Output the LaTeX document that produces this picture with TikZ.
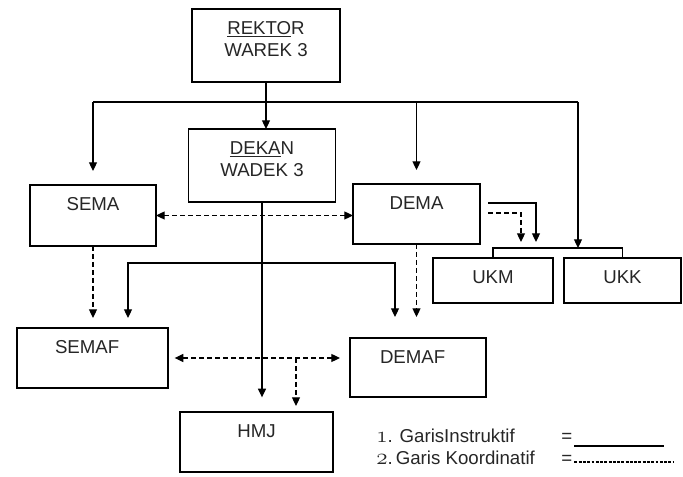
\documentclass[tikz,border=0pt]{standalone}
\usepackage{fontspec}
\setmainfont{Liberation Sans}
\usetikzlibrary{arrows.meta}

\tikzset{
  box/.style 2 args={draw, line width=0.9pt, minimum width=#1*0.75pt, minimum height=#2*0.75pt, inner sep=0pt, outer sep=0pt},
  txt/.style={anchor=north, inner sep=0pt, yshift=-9pt, align=center, text=black!85, font=\fontsize{14}{17}\selectfont},
  lgd/.style={inner sep=0pt, text=black!85, font=\fontsize{14}{17}\selectfont},
  line/.style={line width=0.9pt},
  dash line/.style={line width=0.9pt, dash pattern=on 3.5pt off 2.5pt},
}
\newcommand{\legnum}[1]{{\fontsize{18}{18}\selectfont$\mathnormal{#1}$}}

\begin{document}
\begin{tikzpicture}[x=0.75pt, y=-0.75pt, >={Triangle[length=6.5pt,width=6pt]}]
\useasboundingbox (0,0) rectangle (683,477);

% boxes
\node[box={148}{73}, label={[txt]north:\underline{REKTO}R\\WAREK 3}] (rektor) at (266,45.5) {};
\node[box={147}{73}, label={[txt]north:\underline{DEKA}N\\WADEK 3}] (dekan) at (262,165.5) {};
\node[box={126}{61}, label={[txt]north:SEMA}] (sema) at (93,215.5) {};
\node[box={127}{60}, label={[txt]north:DEMA}] (dema) at (416.5,214) {};
\node[box={120}{45}, label={[txt]north:UKM}] (ukm) at (493,280.5) {};
\node[box={117}{45}, label={[txt]north:UKK}] (ukk) at (622.5,280.5) {};
\node[box={151}{60}, label={[txt, xshift=-4pt]north:SEMAF}] (semaf) at (92.5,358) {};
\node[box={136}{59}, label={[txt, xshift=-4pt]north:DEMAF}] (demaf) at (418,367.5) {};
\node[box={153}{60}, label={[txt]north:HMJ}] (hmj) at (256.5,442) {};

% junctions
\coordinate (bus) at (266,102);
\coordinate (uk) at (578,248);
\coordinate (ds) at (536,248);
\coordinate (dd) at (521,248);
\coordinate (fl) at (128,263);
\coordinate (fr) at (395,263);
\coordinate (hd) at (296,358);

% garis instruktif
\draw[line, ->] (rektor.south) -- (rektor.south |- dekan.north);
\draw[line] (sema.north |- bus) -- (uk |- bus);
\draw[line, ->, shorten >=10.5pt] (sema.north |- bus) -- (sema.north);
\draw[line, ->, shorten >=10.5pt] (dema.north |- bus) -- (dema.north);
\draw[line, ->] (uk |- bus) -- (uk);
\draw[line] (ukm.north) |- (uk) -| (ukk.north);
\draw[line, ->, shorten >=4.5pt] ([shift={(8,-11)}]dema.east) -| (ds);
\draw[line, ->, shorten >=11pt] (dekan.south) -- (dekan.south |- hmj.north);
\draw[line, <->, shorten <=7.5pt, shorten >=15.75pt] (fl |- semaf.north) |- (fr) -- (fr |- demaf.north);

% garis koordinatif
\draw[dash line, <->] (sema.east) -- (sema.east -| dema.west);
\draw[dash line, ->, shorten >=4.5pt] ([shift={(8,-1)}]dema.east) -| (dd);
\draw[dash line, ->, shorten >=7.5pt] (sema.south) -- (sema.south |- semaf.north);
\draw[dash line, ->, shorten >=15.75pt] (dema.south) -- (dema.south |- demaf.north);
\draw[dash line, <->, shorten <=5pt, shorten >=7.5pt] (semaf.east) -- (semaf.east -| demaf.west);
\draw[dash line, ->, shorten >=4.5pt] (hd) -- (hd |- hmj.north);

% legend
\node[lgd, anchor=base west] (leg1) at (376,443) {\legnum{1}. GarisInstruktif};
\node[lgd, anchor=base west] (leg2) at (376,465) {\legnum{2}.\,Garis Koordinatif};
\node[lgd, anchor=base west] (eq1) at (561,443) {=};
\node[lgd, anchor=base west] (eq2) at (561,465) {=};
\draw[line width=0.8pt] ([shift={(2,3)}]eq1.base east) -- ++(90,0);
\draw[line width=0.8pt, dash pattern=on 2.2pt off 1pt] ([shift={(2,-3)}]eq2.base east) -- ++(100,0);
\end{tikzpicture}
\end{document}
